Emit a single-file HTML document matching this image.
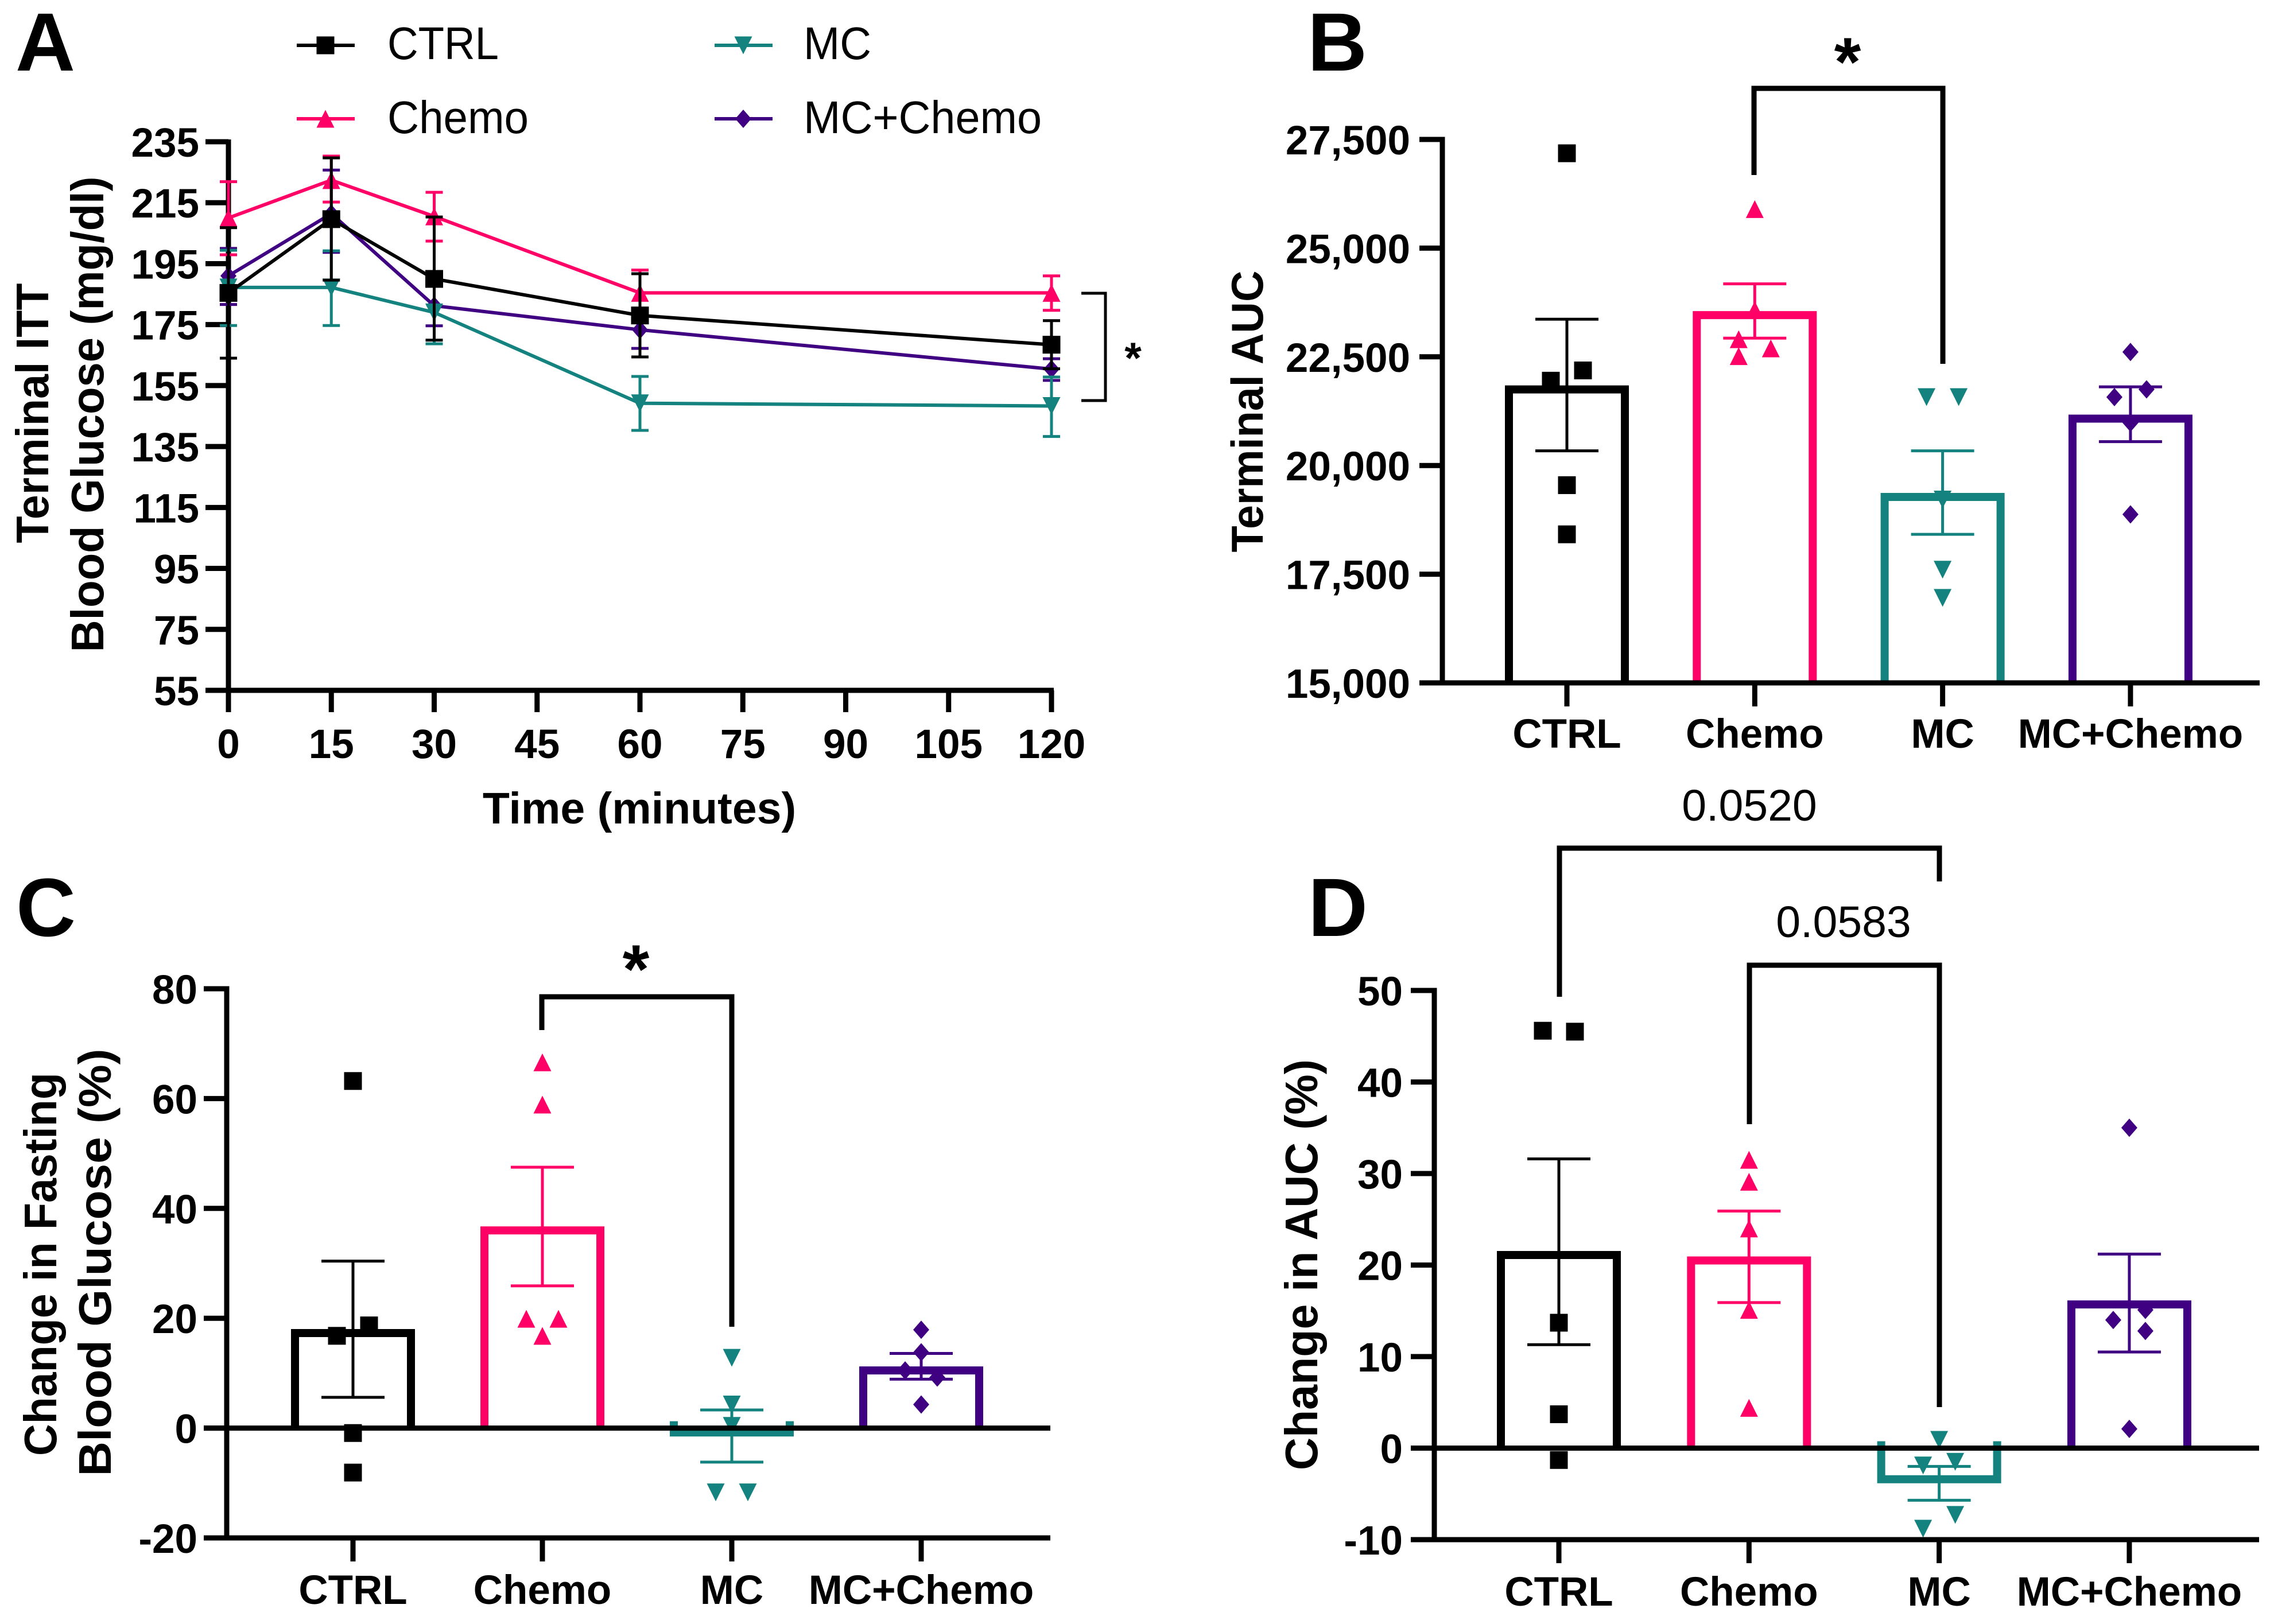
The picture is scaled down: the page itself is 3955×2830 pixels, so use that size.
<!DOCTYPE html>
<html lang="en">
<head>
<meta charset="utf-8">
<title>Terminal ITT and AUC panels</title>
<style>
html,body{margin:0;padding:0;background:#fff;}
svg{display:block;}
text{font-family:"Liberation Sans",sans-serif;fill:#000;}
.b{font-weight:700;}
</style>
</head>
<body>
<svg id="fig" xmlns="http://www.w3.org/2000/svg" width="3955" height="2830" viewBox="0 0 3955 2830">
<rect width="3955" height="2830" fill="#fff"/>

<text class="b" x="27" y="123" font-size="144">A</text>
<text class="b" x="2278" y="123" font-size="144">B</text>
<text class="b" x="28" y="1631" font-size="144">C</text>
<text class="b" x="2279" y="1631" font-size="144">D</text>

<g>
  <g id="legendMarks"></g>
  <text x="675" y="103" font-size="80" textLength="194" lengthAdjust="spacingAndGlyphs">CTRL</text>
  <text x="675" y="232" font-size="80" textLength="246" lengthAdjust="spacingAndGlyphs">Chemo</text>
  <text x="1400" y="103" font-size="80" textLength="118" lengthAdjust="spacingAndGlyphs">MC</text>
  <text x="1400" y="232" font-size="80" textLength="415" lengthAdjust="spacingAndGlyphs">MC+Chemo</text>
</g>

<text class="b" font-size="80" text-anchor="middle" textLength="453" lengthAdjust="spacingAndGlyphs" transform="translate(84 720) rotate(-90)">Terminal ITT</text>
<text class="b" font-size="80" text-anchor="middle" textLength="829" lengthAdjust="spacingAndGlyphs" transform="translate(180 722) rotate(-90)">Blood Glucose (mg/dl)</text>
<text class="b" font-size="77" text-anchor="middle" x="1114" y="1435">Time (minutes)</text>
<text class="b" font-size="78" text-anchor="middle" textLength="491" lengthAdjust="spacingAndGlyphs" transform="translate(2200 717) rotate(-90)">Terminal AUC</text>
<text class="b" font-size="80" text-anchor="middle" textLength="668" lengthAdjust="spacingAndGlyphs" transform="translate(98 2203) rotate(-90)">Change in Fasting</text>
<text class="b" font-size="80" text-anchor="middle" textLength="745" lengthAdjust="spacingAndGlyphs" transform="translate(193 2200) rotate(-90)">Blood Glucose (%)</text>
<text class="b" font-size="80" text-anchor="middle" textLength="716" lengthAdjust="spacingAndGlyphs" transform="translate(2295 2204) rotate(-90)">Change in AUC (%)</text>

<path d="M1884 511H1926V698H1884" fill="none" stroke="#000" stroke-width="5"/>
<text class="b" font-size="76" text-anchor="middle" x="1974" y="650">*</text>
<path d="M3056 305V154H3385V634" fill="none" stroke="#000" stroke-width="9"/>
<text class="b" font-size="120" text-anchor="middle" x="3219" y="149">*</text>
<path d="M944 1795V1737H1275V2312" fill="none" stroke="#000" stroke-width="9"/>
<text class="b" font-size="120" text-anchor="middle" x="1108" y="1730">*</text>
<path d="M2717 1737V1478H3379V1536" fill="none" stroke="#000" stroke-width="9"/>
<text font-size="77" text-anchor="middle" x="3048" y="1430">0.0520</text>
<path d="M3048 1959V1682H3379V2452" fill="none" stroke="#000" stroke-width="9"/>
<text font-size="77" text-anchor="middle" x="3212" y="1633">0.0583</text>

<g id="panelA"></g>
<g id="panelB"></g>
<g id="panelC"></g>
<g id="panelD"></g>
</svg>

<script>
// Shared categories
const groupLabels = ['CTRL', 'Chemo', 'MC', 'MC+Chemo'];
const groupSlugs = ['ctrl', 'chemo', 'mc', 'mc-chemo'];
const groupColors = ['#000000', '#ff0066', '#14837f', '#3f0082'];
const groupShapes = ['square', 'up', 'down', 'diamond'];

// Panel A: glucose over time
const timePoints = [0, 15, 30, 60, 120];
const aXTicks = [0, 15, 30, 45, 60, 75, 90, 105, 120];
const aYTicks = [55, 75, 95, 115, 135, 155, 175, 195, 215, 235];
const ctrlGlucose = [185.4, 209.6, 190, 178, 168.4];
const ctrlUpper = [206.8, 229.7, 210.3, 191.7, 176.3];
const ctrlLower = [164, 189.6, 169.9, 164.4, 160.5];
const chemoGlucose = [210, 222.4, 210.5, 185.4, 185.4];
const chemoUpper = [221.9, 230.3, 218.4, 192.9, 191];
const chemoLower = [197.9, 215.2, 202.4, 178, 179.7];
const mcGlucose = [187.2, 187.2, 179, 149.2, 148.3];
const mcUpper = [199.4, 199.2, 189.3, 158, 157.8];
const mcLower = [174.7, 174.7, 168.7, 140.3, 138.3];
const mcChemoGlucose = [191, 211.4, 181.2, 173.3, 160.4];
const mcChemoUpper = [200, 225.7, 187.8, 179.4, 163.8];
const mcChemoLower = [181.6, 198.7, 174.6, 167.2, 156.7];

// Panel B: terminal AUC
const bYTicks = [15000, 17500, 20000, 22500, 25000, 27500];
const bMeans = [21750, 23459, 19277, 21079];
const bUpper = [23365, 24178, 20337, 21810];
const bLower = [20337, 22929, 18417, 20549];
const bCtrlPoints = [27182, 22187, 21951, 19548, 18417];
const bChemoPoints = [25898, 23577, 22905, 22693, 22516];
const bMcPoints = [21574, 21574, 19218, 17604, 16956];
const bMcChemoPoints = [22611, 21751, 21574, 20985, 18876];
const bCtrlSlots = [0, 1, -1, 0, 0];
const bChemoSlots = [0, 0, -1, 1, -1];
const bMcSlots = [-1, 1, 0, 0, 0];
const bMcChemoSlots = [0, 1, -1, 0, 0];

// Panel C: change in fasting glucose
const cYTicks = [-20, 0, 20, 40, 60, 80];
const cMeans = [17.3, 36, -0.8, 10.5];
const cUpper = [30.4, 47.5, 3.3, 13.6];
const cLower = [5.6, 25.9, -6.2, 8.9];
const cCtrlPoints = [63.2, 18.7, 16.8, -0.9, -8.1];
const cChemoPoints = [66.6, 58.9, 19.9, 19.9, 16.8];
const cMcPoints = [12.8, 4.3, 0.4, -11.7, -11.7];
const cMcChemoPoints = [17.9, 13.8, 10.5, 9.2, 4.3];
const cCtrlSlots = [0, 1, -1, 0, 0];
const cChemoSlots = [0, 0, -1, 1, 0];
const cMcSlots = [0, 0, 0, -1, 1];
const cMcChemoSlots = [0, 0, -1, 1, 0];

// Panel D: change in AUC
const dYTicks = [-10, 0, 10, 20, 30, 40, 50];
const dMeans = [21.1, 20.5, -3.4, 15.7];
const dUpper = [31.6, 25.9, -2, 21.2];
const dLower = [11.3, 15.9, -5.7, 10.5];
const dCtrlPoints = [45.6, 45.5, 13.7, 3.7, -1.3];
const dChemoPoints = [31.5, 29.1, 24, 15.1, 4.4];
const dMcPoints = [0.9, -1.9, -1.5, -7.3, -8.8];
const dMcChemoPoints = [35, 15.1, 14, 12.8, 2.1];
const dCtrlSlots = [-1, 1, 0, 0, 0];
const dChemoSlots = [0, 0, 0, 0, 0];
const dMcSlots = [0, -1, 1, 1, -1];
const dMcChemoSlots = [0, 1, -1, 1, 0];

const SVGNS = 'http://www.w3.org/2000/svg';

function add(parent, tag, name, attrs, txt) {
  const el = document.createElementNS(SVGNS, tag);
  
  
  for (const k in attrs) el.setAttribute(k, attrs[k]);
  if (txt !== undefined) el.textContent = txt;
  parent.appendChild(el);
  return el;
}

function linear(d0, d1, r0, r1) {
  return function (v) { return r0 + (v - d0) / (d1 - d0) * (r1 - r0); };
}

function hline(p, name, x1, x2, y, color, w) {
  add(p, 'line', name, {x1: x1, x2: x2, y1: y, y2: y, stroke: color, 'stroke-width': w});
}
function vline(p, name, x, y1, y2, color, w) {
  add(p, 'line', name, {x1: x, x2: x, y1: y1, y2: y2, stroke: color, 'stroke-width': w});
}

function marker(p, name, shape, x, y, color) {
  const r = 15.5;
  if (shape === 'square') {
    add(p, 'rect', name, {x: x - r, y: y - r, width: 2 * r, height: 2 * r, fill: color});
  } else if (shape === 'up') {
    add(p, 'polygon', name, {points: [x - r, y + r, x + r, y + r, x, y - r].join(' '), fill: color});
  } else if (shape === 'down') {
    add(p, 'polygon', name, {points: [x - r, y - r, x + r, y - r, x, y + r].join(' '), fill: color});
  } else {
    add(p, 'polygon', name, {points: [x, y - 16, x + 14, y, x, y + 16, x - 14, y].join(' '), fill: color});
  }
}

function errorBar(p, name, x, yHi, yLo, halfCap, color) {
  vline(p, name + '-stem', x, yHi, yLo, color, 5);
  hline(p, name + '-cap-upper', x - halfCap, x + halfCap, yHi, color, 5);
  hline(p, name + '-cap-lower', x - halfCap, x + halfCap, yLo, color, 5);
}

/* Legend */
(function () {
  const g = document.getElementById('legendMarks');
  const spots = [[517, 79], [517, 207], [1245, 79], [1245, 207]];
  groupSlugs.forEach(function (slug, i) {
    const s = spots[i];
    hline(g, 'legend-' + slug + '-line', s[0], s[0] + 101, s[1], groupColors[i], 6);
    marker(g, 'legend-' + slug + '-marker', groupShapes[i], s[0] + 50, s[1], groupColors[i]);
  });
})();

/* Panel A */
(function () {
  const g = document.getElementById('panelA');
  const x = linear(0, 120, 398, 1832);
  const y = linear(55, 235, 1203, 247);
  const series = [
    {slug: 'mc-chemo', idx: 3, v: mcChemoGlucose, hi: mcChemoUpper, lo: mcChemoLower},
    {slug: 'mc', idx: 2, v: mcGlucose, hi: mcUpper, lo: mcLower},
    {slug: 'chemo', idx: 1, v: chemoGlucose, hi: chemoUpper, lo: chemoLower},
    {slug: 'ctrl', idx: 0, v: ctrlGlucose, hi: ctrlUpper, lo: ctrlLower}
  ];
  vline(g, 'a-y-axis-line', x(0), 243, 1207, '#000', 9);
  hline(g, 'a-x-axis-line', 358, 1836, y(55), '#000', 9);
  aYTicks.forEach(function (t) {
    hline(g, 'a-y-tick-' + t, 358, 398, y(t), '#000', 9);
    add(g, 'text', 'a-y-tick-label-' + t, {x: 347, y: y(t) + 26, 'text-anchor': 'end', 'font-size': 71, class: 'b'}, t);
  });
  aXTicks.forEach(function (t) {
    vline(g, 'a-x-tick-' + t, x(t), 1203, 1241, '#000', 9);
    add(g, 'text', 'a-x-tick-label-' + t, {x: x(t), y: 1321, 'text-anchor': 'middle', 'font-size': 71, class: 'b'}, t);
  });
  series.forEach(function (s) {
    const color = groupColors[s.idx];
    const pts = timePoints.map(function (t, i) { return x(t) + ',' + y(s.v[i]); }).join(' ');
    timePoints.forEach(function (t, i) {
      errorBar(g, 'a-' + s.slug + '-error-' + t, x(t), y(s.hi[i]), y(s.lo[i]), 15, color);
    });
    add(g, 'polyline', 'a-' + s.slug + '-line', {points: pts, fill: 'none', stroke: color, 'stroke-width': 6});
    timePoints.forEach(function (t, i) {
      marker(g, 'a-' + s.slug + '-marker-' + t, groupShapes[s.idx], x(t), y(s.v[i]), color);
    });
  });
})();

/* Bar panels */
function barPanel(g, prefix, o) {
  const y = linear(o.ticks[0], o.ticks[o.ticks.length - 1], o.yBottom, o.yTop);
  const cx = function (i) { return o.xFirst + i * o.step; };
  const zero = o.ticks[0] < 0 ? y(0) : o.yBottom;
  vline(g, prefix + '-y-axis-line', o.axisX, o.yTop - 4.5, o.yBottom + 4.5, '#000', 9);
  o.ticks.forEach(function (t) {
    hline(g, prefix + '-y-tick-' + t, o.tickX, o.axisX, y(t), '#000', 9);
    const lbl = t >= 1000 ? t.toLocaleString('en-US') : String(t);
    add(g, 'text', prefix + '-y-tick-label-' + t, {x: o.labelX, y: y(t) + 26, 'text-anchor': 'end', 'font-size': 71, class: 'b'}, lbl);
  });
  groupLabels.forEach(function (label, i) {
    const c = cx(i);
    const color = groupColors[i];
    const slug = groupSlugs[i];
    const top = y(o.means[i]);
    const half = 101;
    const ext = o.means[i] < 0 ? zero - 12 : zero;
    add(g, 'path', prefix + '-bar-' + slug, {
      d: 'M' + (c - half) + ' ' + ext + 'V' + top + 'H' + (c + half) + 'V' + ext,
      fill: 'none', stroke: color, 'stroke-width': 14, 'stroke-linejoin': 'miter'
    });
    vline(g, prefix + '-x-tick-' + slug, c, o.yBottom, o.yBottom + 41, '#000', 9);
    add(g, 'text', prefix + '-x-tick-label-' + slug, {x: c, y: o.labelY, 'text-anchor': 'middle', 'font-size': 71, class: 'b'}, label);
    o.points[i].forEach(function (v, j) {
      marker(g, prefix + '-point-' + slug + '-' + (j + 1), groupShapes[i], c + o.slots[i][j] * 28, y(v), color);
    });
    errorBar(g, prefix + '-error-' + slug, c, y(o.upper[i]), y(o.lower[i]), 55, color);
  });
  hline(g, prefix + '-baseline', o.tickX, o.axisEnd, zero, '#000', 9);
  if (o.ticks[0] < 0) hline(g, prefix + '-x-axis-line', o.tickX, o.axisEnd, o.yBottom, '#000', 9);
}

barPanel(document.getElementById('panelB'), 'b', {
  ticks: bYTicks, means: bMeans, upper: bUpper, lower: bLower,
  points: [bCtrlPoints, bChemoPoints, bMcPoints, bMcChemoPoints],
  slots: [bCtrlSlots, bChemoSlots, bMcSlots, bMcChemoSlots],
  yTop: 243, yBottom: 1190, axisX: 2513, tickX: 2473, axisEnd: 3937,
  labelX: 2457, labelY: 1303, xFirst: 2730, step: 327.3
});
barPanel(document.getElementById('panelC'), 'c', {
  ticks: cYTicks, means: cMeans, upper: cUpper, lower: cLower,
  points: [cCtrlPoints, cChemoPoints, cMcPoints, cMcChemoPoints],
  slots: [cCtrlSlots, cChemoSlots, cMcSlots, cMcChemoSlots],
  yTop: 1723, yBottom: 2680, axisX: 395, tickX: 355, axisEnd: 1830,
  labelX: 344, labelY: 2795, xFirst: 615, step: 330
});
barPanel(document.getElementById('panelD'), 'd', {
  ticks: dYTicks, means: dMeans, upper: dUpper, lower: dLower,
  points: [dCtrlPoints, dChemoPoints, dMcPoints, dMcChemoPoints],
  slots: [dCtrlSlots, dChemoSlots, dMcSlots, dMcChemoSlots],
  yTop: 1726, yBottom: 2683, axisX: 2499, tickX: 2458, axisEnd: 3936,
  labelX: 2444, labelY: 2798, xFirst: 2716, step: 331.3
});
</script>
</body>
</html>
